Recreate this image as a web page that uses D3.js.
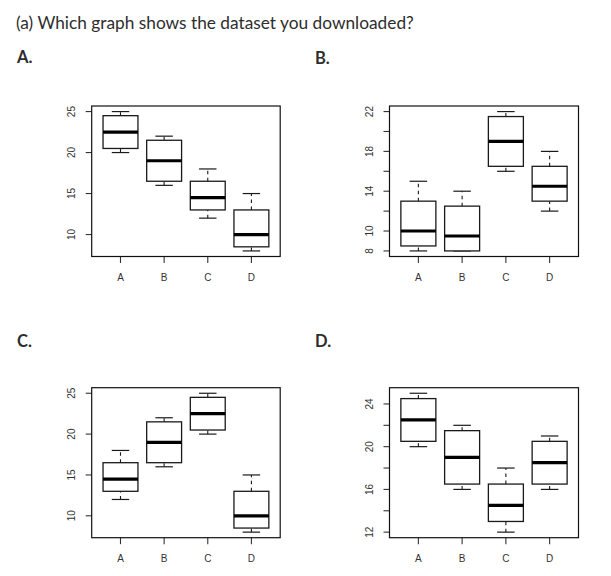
<!DOCTYPE html>
<html>
<head>
<meta charset="utf-8">
<script src="https://cdn.jsdelivr.net/npm/d3@7/dist/d3.min.js"></script>
<style>
  html, body { margin: 0; padding: 0; background: #fff; }
  svg { display: block; }
</style>
</head>
<body>
<svg id="chart" width="611" height="576"></svg>
<script>
// ---- data ----
const categories = ["A", "B", "C", "D"];
const title = "(a) Which graph shows the dataset you downloaded?";
const panelNames = ["A.", "B.", "C.", "D."];

// five-number summaries: [low whisker, Q1, median, Q3, high whisker]
const statsA = [[20, 20.5, 22.5, 24.5, 25], [16, 16.5, 19, 21.5, 22], [12, 13, 14.5, 16.5, 18], [8, 8.5, 10, 13, 15]];
const statsB = [[8, 8.5, 10, 13, 15], [8, 8, 9.5, 12.5, 14], [16, 16.5, 19, 21.5, 22], [12, 13, 14.5, 16.5, 18]];
const statsC = [[12, 13, 14.5, 16.5, 18], [16, 16.5, 19, 21.5, 22], [20, 20.5, 22.5, 24.5, 25], [8, 8.5, 10, 13, 15]];
const statsD = [[20, 20.5, 22.5, 24.5, 25], [16, 16.5, 19, 21.5, 22], [12, 13, 14.5, 16.5, 18], [16, 16.5, 18.5, 20.5, 21]];

const ticksA = [10, 15, 20, 25];
const labelsA = [10, 15, 20, 25];
const ticksB = [8, 10, 12, 14, 16, 18, 20, 22];
const labelsB = [8, 10, 14, 18, 22];
const ticksC = [10, 15, 20, 25];
const labelsC = [10, 15, 20, 25];
const ticksD = [12, 14, 16, 18, 20, 22, 24];
const labelsD = [12, 16, 20, 24];

// ---- layout ----
const panels = [
  { name: panelNames[0], stats: statsA, ticks: ticksA, labels: labelsA, x: 91.7, y: 106, w: 188.5, h: 150.5, lx: 17, ly: 63 },
  { name: panelNames[1], stats: statsB, ticks: ticksB, labels: labelsB, x: 389.5, y: 106, w: 189, h: 150.5, lx: 315, ly: 64 },
  { name: panelNames[2], stats: statsC, ticks: ticksC, labels: labelsC, x: 91.7, y: 387.7, w: 188.5, h: 150, lx: 17, ly: 347 },
  { name: panelNames[3], stats: statsD, ticks: ticksD, labels: labelsD, x: 389.5, y: 387.7, w: 189, h: 150, lx: 315, ly: 347 }
];

const svg = d3.select("#chart");

svg.append("text")
  .attr("x", 16).attr("y", 28.5)
  .attr("font-family", "Lato, 'Open Sans', sans-serif")
  .attr("font-size", 17.3)
  .attr("fill", "#2d2d2d")
  .text(title);

const lineCol = "#1a1a1a";
const tickFont = "'Liberation Sans', Arial, sans-serif";

panels.forEach(p => {
  // panel label
  svg.append("text")
    .attr("x", p.lx).attr("y", p.ly)
    .attr("font-family", "Lato, 'Open Sans', sans-serif")
    .attr("font-weight", 700)
    .attr("font-size", 16.5)
    .attr("fill", "#2d2d2d")
    .text(p.name);

  const lo = d3.min(p.stats, d => d[0]);
  const hi = d3.max(p.stats, d => d[4]);
  const pad = (hi - lo) * 0.04;
  const y = d3.scaleLinear().domain([lo - pad, hi + pad]).range([p.y + p.h, p.y]);
  const n = categories.length;
  const xpad = n * 0.04;
  const xn = d3.scaleLinear().domain([0.5 - xpad, n + 0.5 + xpad]).range([p.x, p.x + p.w]);
  const g = svg.append("g");

  // y ticks
  g.selectAll(".yt").data(p.ticks).enter().append("line")
    .attr("x1", p.x - 6).attr("x2", p.x)
    .attr("y1", d => y(d)).attr("y2", d => y(d))
    .attr("stroke", "#333").attr("stroke-width", 1.1);
  g.selectAll(".yl").data(p.labels).enter().append("text")
    .attr("transform", d => `translate(${p.x - 16.5},${y(d)}) rotate(-90)`)
    .attr("text-anchor", "middle")
    .attr("font-family", tickFont)
    .attr("font-size", 10)
    .attr("fill", "#333")
    .text(d => d);

  // x ticks and labels
  g.selectAll(".xt").data(categories).enter().append("line")
    .attr("x1", (d, i) => xn(i + 1)).attr("x2", (d, i) => xn(i + 1))
    .attr("y1", p.y + p.h).attr("y2", p.y + p.h + 6.5)
    .attr("stroke", "#333").attr("stroke-width", 1.1);
  g.selectAll(".xl").data(categories).enter().append("text")
    .attr("x", (d, i) => xn(i + 1)).attr("y", p.y + p.h + 24.5)
    .attr("text-anchor", "middle")
    .attr("font-family", tickFont)
    .attr("font-size", 10)
    .attr("fill", "#333")
    .text(d => d);

  // boxes
  const bw = 0.8;
  p.stats.forEach((s, i) => {
    const cx = xn(i + 1);
    const half = xn(i + 1 + bw / 2) - cx;
    const staple = half / 2;
    // whiskers (dashed)
    [[s[0], s[1]], [s[3], s[4]]].forEach(([a, b]) => {
      if (a !== b) {
        g.append("line")
          .attr("x1", cx).attr("x2", cx)
          .attr("y1", y(a)).attr("y2", y(b))
          .attr("stroke", lineCol).attr("stroke-width", 1.1)
          .attr("stroke-dasharray", "3.5,3.5");
      }
    });
    // staples
    [s[0], s[4]].forEach(v => {
      g.append("line")
        .attr("x1", cx - staple).attr("x2", cx + staple)
        .attr("y1", y(v)).attr("y2", y(v))
        .attr("stroke", lineCol).attr("stroke-width", 1.2);
    });
    // box
    g.append("rect")
      .attr("x", cx - half).attr("y", y(s[3]))
      .attr("width", 2 * half).attr("height", y(s[1]) - y(s[3]))
      .attr("fill", "#fff")
      .attr("stroke", lineCol).attr("stroke-width", 1.3);
    // median
    g.append("line")
      .attr("x1", cx - half).attr("x2", cx + half)
      .attr("y1", y(s[2])).attr("y2", y(s[2]))
      .attr("stroke", "#000").attr("stroke-width", 3.2);
  });

  // frame
  g.append("rect")
    .attr("x", p.x).attr("y", p.y).attr("width", p.w).attr("height", p.h)
    .attr("fill", "none").attr("stroke", "#111").attr("stroke-width", 1.2);
});
</script>
</body>
</html>
